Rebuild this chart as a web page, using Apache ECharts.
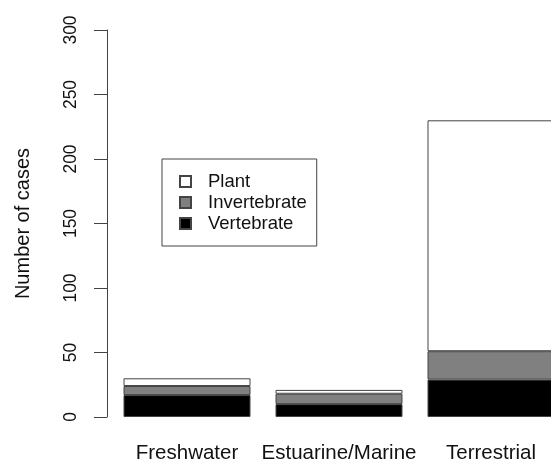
<!DOCTYPE html>
<html>
<head>
<meta charset="utf-8">
<script src="https://cdn.jsdelivr.net/npm/echarts@6/dist/echarts.min.js"></script>
<style>html,body{margin:0;padding:0;background:#fff;overflow:hidden;}#c{width:551px;height:463px;}</style>
</head>
<body>
<div id="c"></div>
<script>
const categories = ['Freshwater', 'Estuarine/Marine', 'Terrestrial'];
const vertebrate = [17, 10, 29];
const invertebrate = [7, 8, 22];
const plant = [6, 3, 179];
const yTicks = [0, 50, 100, 150, 200, 250, 300];

const font = 'Liberation Sans, Arial, Helvetica, sans-serif';
const border = '#444';
const chart = echarts.init(document.getElementById('c'), null, {renderer: 'canvas'});
function bar(name, data, color) {
  return {
    name: name, type: 'bar', stack: 'total', data: data, barWidth: 127,
    itemStyle: {color: color, borderColor: border, borderWidth: 1},
    emphasis: {disabled: true}
  };
}
chart.setOption({
  animation: false,
  backgroundColor: '#fff',
  grid: {left: 111, width: 456, top: 30, bottom: 46, containLabel: false, outerBoundsMode: 'none'},
  legend: {
    orient: 'vertical', left: 162, top: 159,
    data: ['Plant', 'Invertebrate', 'Vertebrate'],
    borderColor: border, borderWidth: 1,
    padding: [12, 10, 12, 17],
    itemWidth: 11, itemHeight: 11, itemGap: 0,
    icon: 'rect',
    textStyle: {fontFamily: font, fontSize: 18.5, color: '#111', lineHeight: 21, padding: [0, 0, 0, 12]},
    selectedMode: false
  },
  xAxis: {
    type: 'category', data: categories,
    axisLine: {show: false}, axisTick: {show: false},
    axisLabel: {interval: 0, fontFamily: font, fontSize: 20.5, color: '#111', margin: 26}
  },
  yAxis: {
    type: 'value', min: yTicks[0], max: yTicks[yTicks.length - 1], interval: 50,
    offset: 4,
    name: 'Number of cases', nameLocation: 'middle', nameGap: 74,
    nameTextStyle: {fontFamily: font, fontSize: 20, color: '#111'},
    axisLine: {show: true, lineStyle: {color: border, width: 1}},
    axisTick: {show: true, length: 13, lineStyle: {color: border, width: 1}},
    axisLabel: {rotate: 90, margin: 27, fontFamily: font, fontSize: 17.5, color: '#111'},
    splitLine: {show: false}
  },
  series: [
    bar('Vertebrate', vertebrate, '#000'),
    bar('Invertebrate', invertebrate, '#808080'),
    bar('Plant', plant, '#fff')
  ]
});
</script>
</body>
</html>
